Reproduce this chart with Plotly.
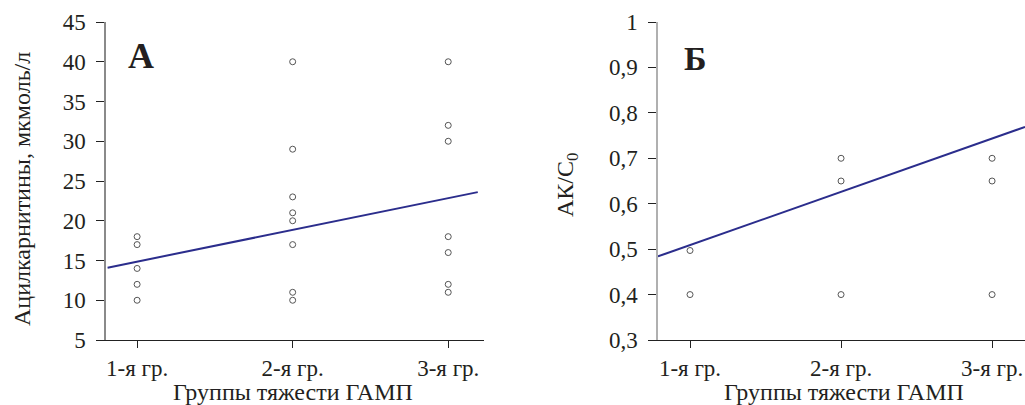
import plotly.graph_objects as go

# ---- data ----
group_labels = ["1-я гр.", "2-я гр.", "3-я гр."]
group_pos = [1, 2, 3]

# Panel A: acylcarnitines
a_x = [1, 1, 1, 1, 1,
       2, 2, 2, 2, 2, 2, 2, 2,
       3, 3, 3, 3, 3, 3, 3]
a_y = [18, 17, 14, 12, 10,
       40, 29, 23, 21, 20, 17, 11, 10,
       40, 32, 30, 18, 16, 12, 11]
trend_a_x = [0.81, 3.19]
trend_a_y = [14.1, 23.6]

# Panel B: AK/C0
b_x = [1, 1, 2, 2, 2, 3, 3, 3]
b_y = [0.497, 0.40, 0.70, 0.65, 0.40, 0.70, 0.65, 0.40]
trend_b_x = [0.788, 3.218]
trend_b_y = [0.484, 0.769]

a_ticks = [5, 10, 15, 20, 25, 30, 35, 40, 45]
b_ticks = [0.3, 0.4, 0.5, 0.6, 0.7, 0.8, 0.9, 1.0]
b_ticktext = ["0,3", "0,4", "0,5", "0,6", "0,7", "0,8", "0,9", "1"]

FONT = "Liberation Serif"
TXT = "#231f20"
LINEC = "#2b2d8c"

W, H = 1025, 405


def px(x):
    return x / W


def py(y):
    return 1 - y / H


fig = go.Figure()
marker = dict(symbol="circle-open", size=6, color="#555555", line=dict(width=1))

fig.add_trace(go.Scatter(x=a_x, y=a_y, mode="markers", marker=marker,
                         xaxis="x", yaxis="y", showlegend=False))
fig.add_trace(go.Scatter(x=trend_a_x, y=trend_a_y, mode="lines",
                         line=dict(color=LINEC, width=2),
                         xaxis="x", yaxis="y", showlegend=False))
fig.add_trace(go.Scatter(x=b_x, y=b_y, mode="markers", marker=marker,
                         xaxis="x2", yaxis="y2", showlegend=False))
fig.add_trace(go.Scatter(x=trend_b_x, y=trend_b_y, mode="lines",
                         line=dict(color=LINEC, width=2),
                         xaxis="x2", yaxis="y2", showlegend=False))

ydom = [py(340), py(22)]
tickfont = dict(family=FONT, size=23, color=TXT)

xcommon = dict(tickvals=group_pos, ticktext=group_labels, showline=True,
               linecolor="#222222", linewidth=1, ticks="outside", ticklen=7,
               tickcolor="#222222", showgrid=False, zeroline=False,
               tickfont=tickfont, automargin=False, ticklabelstandoff=0,
               ticklabeloverflow="allow")
ycommon = dict(ticks="outside", ticklen=8, tickcolor="#222222",
               showgrid=False, zeroline=False, tickfont=tickfont,
               automargin=False, showline=True, linewidth=1.5,
               ticklabelstandoff=6)
fig.update_layout(
    template="none",
    width=W, height=H,
    margin=dict(l=0, r=0, t=0, b=0),
    paper_bgcolor="white", plot_bgcolor="white",
    xaxis=dict(domain=[px(106), px(484)], range=[0.80, 3.23],
               anchor="y", **xcommon),
    xaxis2=dict(domain=[px(658), 1.0], range=[0.788, 3.218],
                anchor="y2", **xcommon),
    yaxis=dict(domain=ydom, range=[5, 45], tickvals=a_ticks,
               linecolor="#8a8a8a", anchor="x", **ycommon),
    yaxis2=dict(domain=ydom, range=[0.3, 1.0], tickvals=b_ticks,
                ticktext=b_ticktext, linecolor="#b0b0b0", anchor="x2",
                **ycommon),
)

ann_font = dict(family=FONT, size=24, color=TXT)
annotations = [
    dict(text="Ацилкарнитины, мкмоль/л", x=px(22), y=py(189),
         textangle=-90, font=ann_font),
    dict(text="АК/С<sub>0</sub>", x=px(567), y=py(185),
         textangle=-90, font=ann_font),
    dict(text="Группы тяжести ГАМП", x=px(292.5), y=py(392),
         font=ann_font),
    dict(text="Группы тяжести ГАМП", x=px(844), y=py(392),
         font=ann_font),
    dict(text="<b>А</b>", x=px(140.5), y=py(55.5),
         font=dict(family=FONT, size=36, color=TXT)),
    dict(text="<b>Б</b>", x=px(695), y=py(58),
         font=dict(family=FONT, size=34, color=TXT)),
]
for a in annotations:
    a.update(xref="paper", yref="paper", showarrow=False,
             xanchor="center", yanchor="middle")
fig.update_layout(annotations=annotations)

fig.write_html(
    "out.html",
    config={"displayModeBar": False},
    post_script="document.body.style.margin='0';"
                "document.body.style.overflow='hidden';",
)
